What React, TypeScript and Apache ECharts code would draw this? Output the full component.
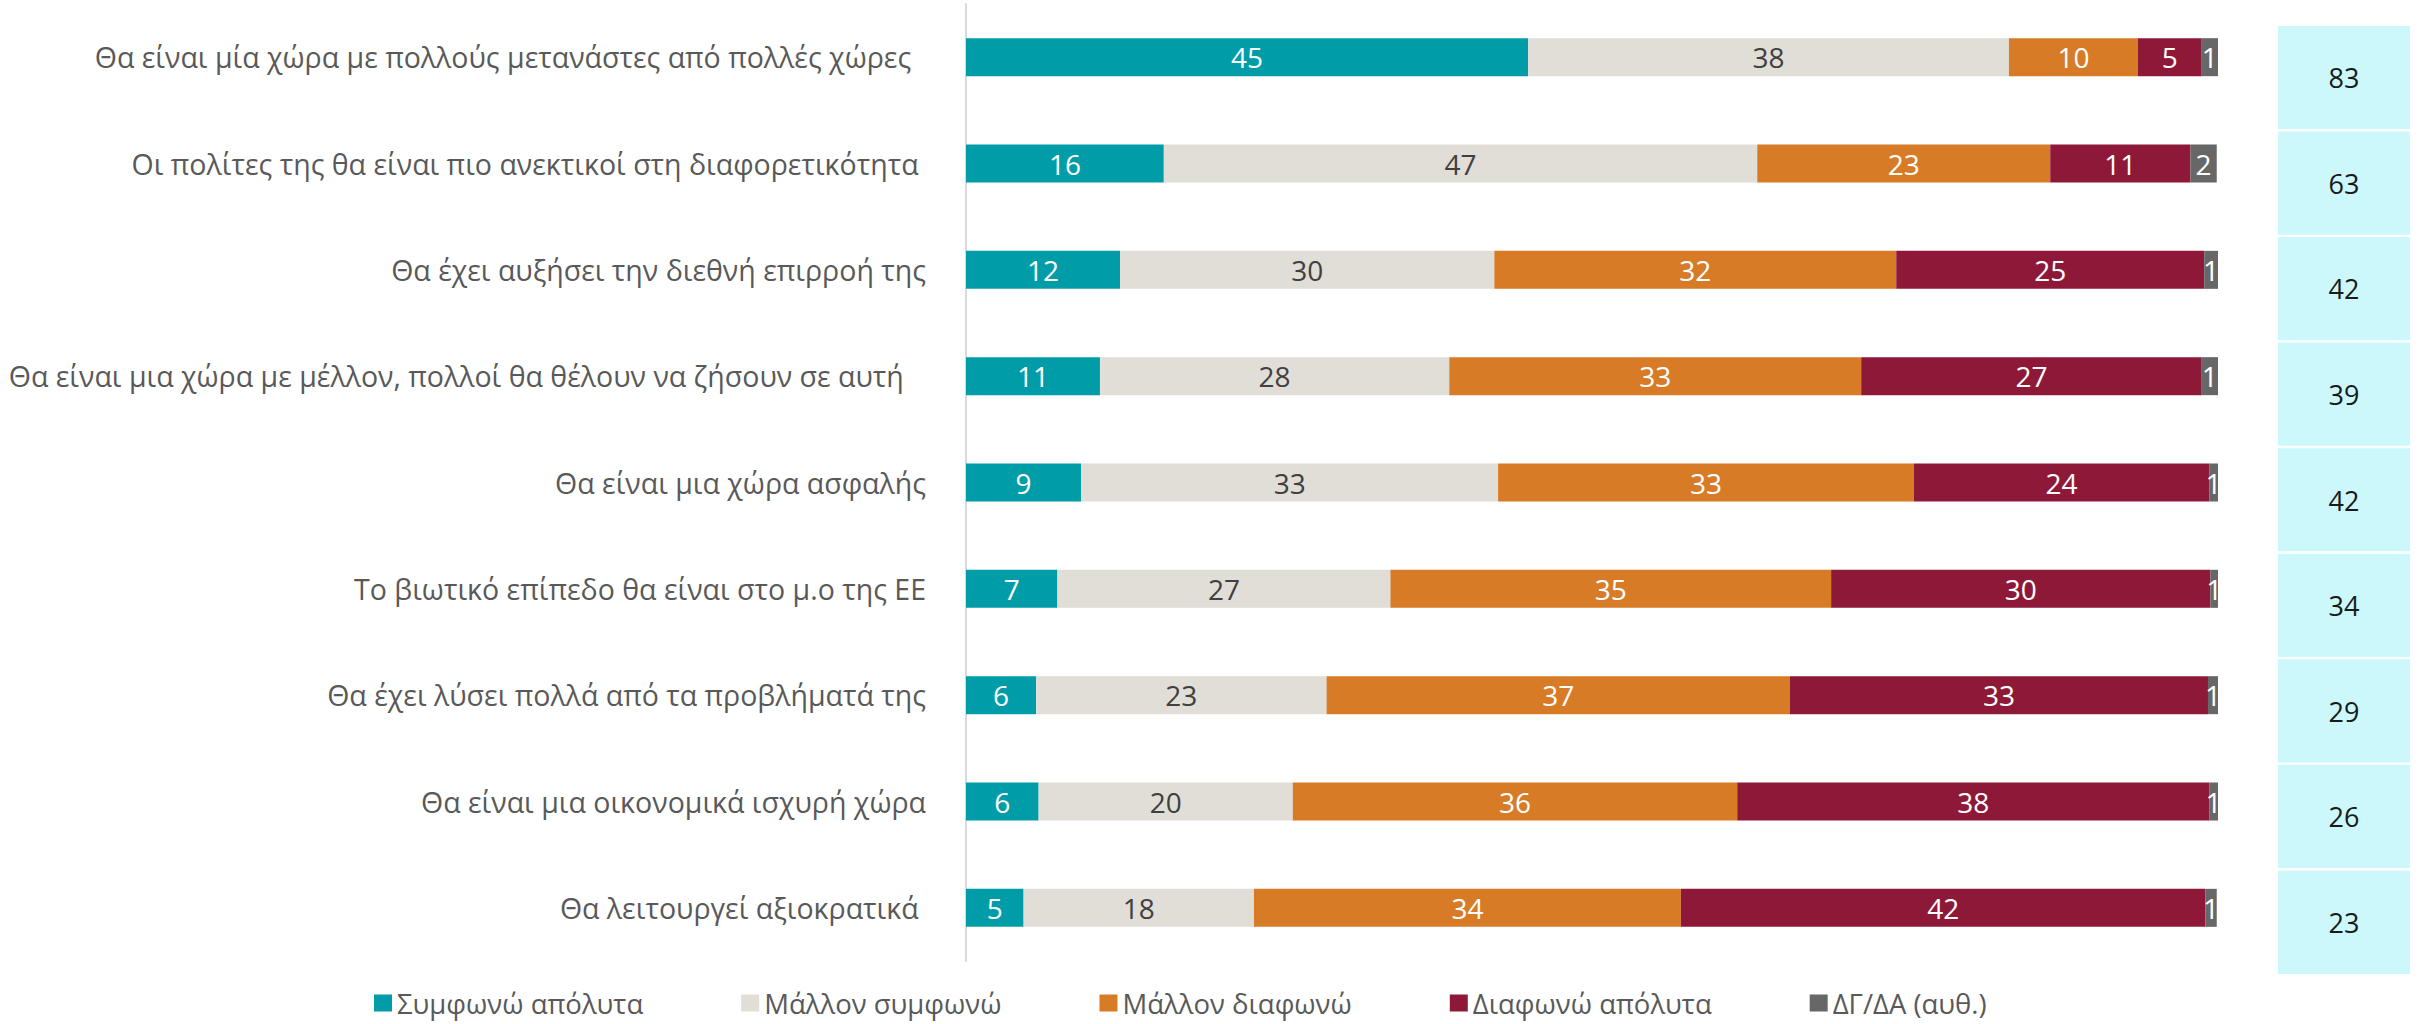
import React, { useEffect, useRef } from "react";
import * as echarts from "echarts";

const categories = [
  "Θα είναι μία χώρα με πολλούς μετανάστες από πολλές χώρες  ",
  "Οι πολίτες της θα είναι πιο ανεκτικοί στη διαφορετικότητα ",
  "Θα έχει αυξήσει την διεθνή επιρροή της",
  "Θα είναι μια χώρα με μέλλον, πολλοί θα θέλουν να ζήσουν σε αυτή   ",
  "Θα είναι μια χώρα ασφαλής",
  "Το βιωτικό επίπεδο θα είναι στο μ.ο της ΕΕ",
  "Θα έχει λύσει πολλά από τα προβλήματά της",
  "Θα είναι μια οικονομικά ισχυρή χώρα",
  "Θα λειτουργεί αξιοκρατικά ",
];

const seriesNames = [
  "Συμφωνώ απόλυτα",
  "Μάλλον συμφωνώ",
  "Μάλλον διαφωνώ",
  "Διαφωνώ απόλυτα",
  "ΔΓ/ΔΑ (αυθ.)",
];

// values (labels show rounded values)
const agreeFully = [44.9, 15.8, 12.3, 10.7, 9.2, 7.3, 5.6, 5.8, 4.6];
const ratherAgree = [38.4, 47.4, 29.9, 27.9, 33.3, 26.6, 23.2, 20.3, 18.4];
const ratherDisagree = [10.3, 23.4, 32.1, 32.9, 33.2, 35.2, 37.0, 35.5, 34.1];
const disagreeFully = [5.1, 11.2, 24.6, 27.2, 23.6, 30.3, 33.4, 37.7, 41.9];
const dkNa = [1.3, 2.1, 1.1, 1.3, 0.7, 0.7, 0.8, 0.7, 0.9];

const totals = [83, 63, 42, 39, 42, 34, 29, 26, 23];

const colors = ["#009DA8", "#E1DDD7", "#D77B27", "#8E1838", "#676767"];
const labelColors = ["#FFFFFF", "#404040", "#FFFFFF", "#FFFFFF", "#FFFFFF"];

const FONT = "Open Sans";

export default function App() {
  const ref = useRef<HTMLDivElement>(null);
  useEffect(() => {
    if (!ref.current) return;
    const chart = echarts.init(ref.current, undefined, { renderer: "svg" });
    const values = [agreeFully, ratherAgree, ratherDisagree, disagreeFully, dkNa];
    const barSeries = values.map((arr, i) => ({
      name: seriesNames[i],
      type: "bar",
      stack: "total",
      xAxisIndex: 0,
      yAxisIndex: 0,
      barWidth: 38,
      data: arr,
      itemStyle: { color: colors[i] },
      label: {
        show: true,
        position: "inside",
        color: labelColors[i],
        fontFamily: FONT,
        fontSize: 28,
        formatter: (p: any) => String(Math.round(p.value)),
      },
    }));
    chart.setOption({
      animation: false,
      backgroundColor: "#FFFFFF",
      textStyle: { fontFamily: FONT },
      grid: [
        { left: 966, width: 1252, top: 4, height: 957, containLabel: false },
        { left: 2277, width: 134, top: 25, height: 950, containLabel: false },
      ],
      xAxis: [
        { type: "value", gridIndex: 0, min: 0, max: 100, show: false },
        { type: "category", gridIndex: 1, data: ["Σύνολο"], show: false },
      ],
      yAxis: [
        {
          type: "category",
          gridIndex: 0,
          inverse: true,
          data: categories,
          axisLine: { show: true, lineStyle: { color: "#D9D9D9", width: 2 } },
          axisTick: { show: false },
          axisLabel: {
            margin: 40,
            fontFamily: FONT,
            fontSize: 28.5,
            color: "#595959",
          },
        },
        {
          type: "category",
          gridIndex: 1,
          inverse: true,
          data: categories,
          show: false,
        },
      ],
      visualMap: {
        show: false,
        seriesIndex: 5,
        min: 0,
        max: 100,
        inRange: { color: ["#CCF8FC", "#CCF8FC"] },
      },
      legend: {
        data: seriesNames,
        left: 369,
        top: 984,
        itemWidth: 18,
        itemHeight: 17,
        itemGap: 98,
        icon: "rect",
        textStyle: { fontFamily: FONT, fontSize: 27.5, color: "#595959" },
      },
      series: [
        ...barSeries,
        {
          name: "Σύνολο",
          type: "heatmap",
          xAxisIndex: 1,
          yAxisIndex: 1,
          data: totals.map((t, i) => [0, i, t]),
          itemStyle: { borderColor: "#FFFFFF", borderWidth: 2.4 },
          label: {
            show: true,
            fontFamily: FONT,
            fontSize: 27,
            color: "#1A1A1A",
            formatter: (p: any) => String(p.value[2]),
          },
        },
      ],
    });
    return () => chart.dispose();
  }, []);
  return (
    <div
      ref={ref}
      style={{ position: "fixed", left: 0, top: 0, width: 2430, height: 1024 }}
    />
  );
}
